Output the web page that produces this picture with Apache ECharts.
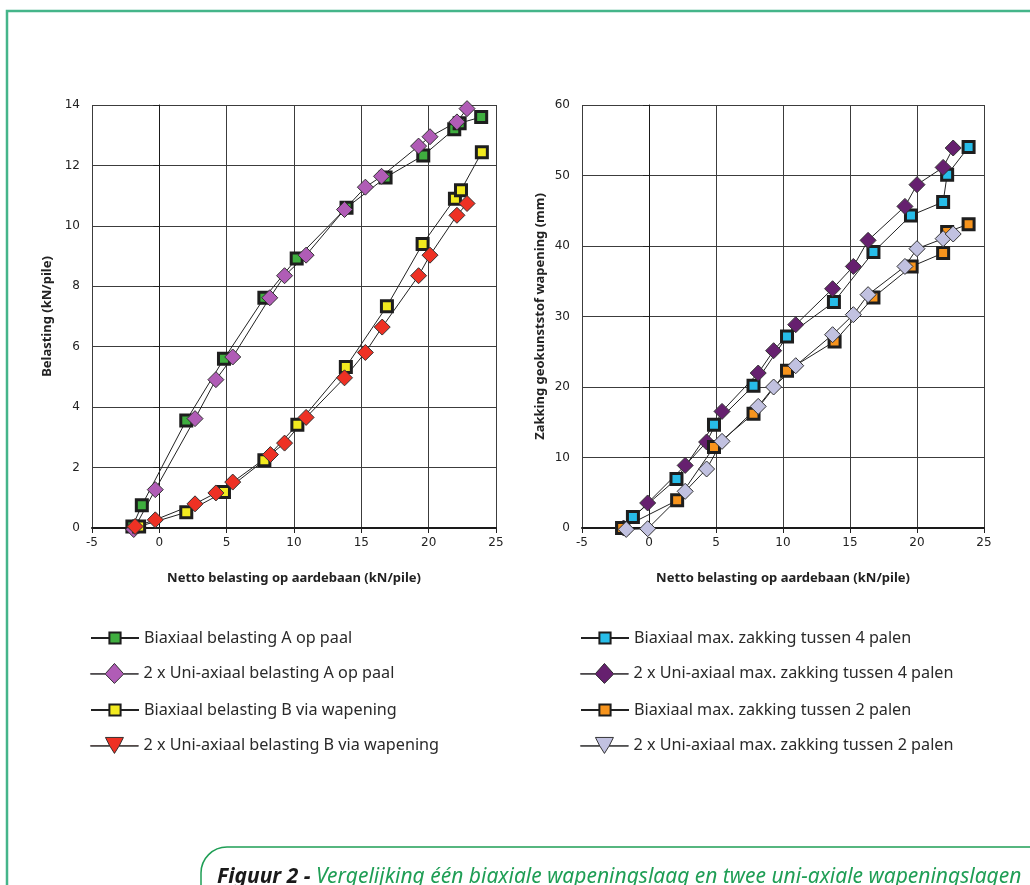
<!DOCTYPE html>
<html>
<head>
<meta charset="utf-8">
<script src="https://cdn.jsdelivr.net/npm/echarts@6/dist/echarts.min.js"></script>
<style>
html,body{margin:0;padding:0;background:#fff;}
#chart{width:1030px;height:885px;}
</style>
</head>
<body>
<div id="chart"></div>
<script>
// ---- Data ----
// Left chart: Belasting (kN/pile) vs Netto belasting op aardebaan (kN/pile)
const biaxA_x = [-2.0, -1.3, 2.0, 4.8, 7.8, 10.2, 13.9, 16.8, 19.6, 21.9, 22.3, 23.9];
const biaxA_y = [0.05, 0.75, 3.56, 5.6, 7.62, 8.92, 10.6, 11.6, 12.33, 13.2, 13.4, 13.6];
const uniA_x = [-1.9, -0.3, 2.65, 4.2, 5.45, 8.2, 9.3, 10.9, 13.75, 15.3, 16.5, 19.25, 20.1, 22.1, 22.85];
const uniA_y = [-0.05, 1.27, 3.62, 4.91, 5.66, 7.62, 8.35, 9.03, 10.54, 11.28, 11.64, 12.64, 12.95, 13.44, 13.88];
const biaxB_x = [-1.5, 2.0, 4.8, 7.8, 10.25, 13.85, 16.9, 19.55, 21.95, 22.4, 23.95];
const biaxB_y = [0.05, 0.52, 1.19, 2.24, 3.42, 5.33, 7.34, 9.4, 10.9, 11.18, 12.44];
const uniB_x = [-1.8, -0.3, 2.65, 4.2, 5.45, 8.25, 9.3, 10.9, 13.75, 15.3, 16.55, 19.25, 20.1, 22.1, 22.85];
const uniB_y = [0.05, 0.27, 0.8, 1.16, 1.52, 2.43, 2.81, 3.66, 4.97, 5.81, 6.65, 8.35, 9.03, 10.35, 10.74];

// Right chart: Zakking geokunststof wapening (mm)
const biax4_x = [-2.0, -1.2, 2.05, 4.85, 7.8, 10.3, 13.8, 16.75, 19.55, 21.95, 22.25, 23.85];
const biax4_y = [0, 1.56, 6.95, 14.65, 20.18, 27.18, 32.06, 39.15, 44.34, 46.24, 50.1, 54.04];
const uni4_x = [-1.9, -0.1, 2.7, 4.3, 5.45, 8.15, 9.3, 10.95, 13.7, 15.25, 16.35, 19.1, 20.0, 21.95, 22.7];
const uni4_y = [0, 3.55, 8.88, 12.2, 16.54, 21.98, 25.15, 28.84, 33.94, 37.1, 40.8, 45.62, 48.7, 51.15, 53.9];
const biax2_x = [-2.0, 2.1, 4.85, 7.8, 10.3, 13.85, 16.75, 19.6, 21.95, 22.25, 23.85];
const biax2_y = [0, 3.92, 11.49, 16.21, 22.31, 26.47, 32.71, 37.1, 39.0, 41.98, 43.1];
const uni2_x = [-1.7, -0.1, 2.7, 4.3, 5.45, 8.15, 9.3, 10.95, 13.7, 15.25, 16.35, 19.1, 20.0, 21.95, 22.7];
const uni2_y = [-0.2, -0.1, 5.2, 8.37, 12.29, 17.25, 20.0, 23.02, 27.42, 30.26, 33.1, 37.1, 39.62, 41.04, 41.7];

// Axis ticks
const xTicks = {min: -5, max: 25, interval: 5};
const yLeftTicks = {min: 0, max: 14, interval: 2};
const yRightTicks = {min: 0, max: 60, interval: 10};

// Names
const seriesNames = [
  'Biaxiaal belasting A op paal',
  '2 x Uni-axiaal belasting A op paal',
  'Biaxiaal belasting B via wapening',
  '2 x Uni-axiaal belasting B via wapening',
  'Biaxiaal max. zakking tussen 4 palen',
  '2 x Uni-axiaal max. zakking tussen 4 palen',
  'Biaxiaal max. zakking tussen 2 palen',
  '2 x Uni-axiaal max. zakking tussen 2 palen'
];
const xAxisName = 'Netto belasting op aardebaan (kN/pile)';
const yLeftName = 'Belasting (kN/pile)';
const yRightName = 'Zakking geokunststof wapening (mm)';
const captionBold = 'Figuur 2 - ';
const captionText = 'Vergelijking één biaxiale wapeningslaag en twee uni-axiale wapeningslagen';

// ---- Build ----
function pairs(xs, ys){ return xs.map((x,i)=>[x, ys[i]]); }

const FONT = 'Noto Sans';
const LINE = {color:'#222', width:1};
const COLORS = ['#3fae3f', '#b05cb6', '#f2ea1f', '#ee3124', '#27bde9', '#66206f', '#f7941d', '#c1c1e0'];

function sq(i, xs, ys, idx){
  return {name:seriesNames[i], type:'line', xAxisIndex:idx, yAxisIndex:idx, data:pairs(xs,ys),
    symbol:'rect', symbolSize:11, clip:false,
    lineStyle:LINE,
    itemStyle:{color:COLORS[i], borderColor:'#1e1e1e', borderWidth:3},
    emphasis:{disabled:true}, animation:false};
}
function dia(i, xs, ys, idx){
  return {name:seriesNames[i], type:'line', xAxisIndex:idx, yAxisIndex:idx, data:pairs(xs,ys),
    symbol:'diamond', symbolSize:16, clip:false,
    lineStyle:LINE,
    itemStyle:{color:COLORS[i], borderColor:'#333', borderWidth:1},
    emphasis:{disabled:true}, animation:false};
}

function xAxisCfg(gi){
  return {type:'value', gridIndex:gi, min:xTicks.min, max:xTicks.max, interval:xTicks.interval,
    name:xAxisName, nameLocation:'middle', nameGap:44,
    nameTextStyle:{fontFamily:FONT, fontWeight:'bold', fontSize:13, color:'#222'},
    axisLine:{show:true, onZero:false, lineStyle:{color:'#1a1a1a', width:2}},
    axisTick:{show:true, length:5, lineStyle:{color:'#222'}},
    axisLabel:{fontFamily:'DejaVu Sans', fontSize:12, color:'#222', margin:9},
    splitLine:{show:true, lineStyle:{color:'#3c3c3c', width:1}}};
}
function yAxisCfg(gi, t, name, gap){
  return {type:'value', gridIndex:gi, min:t.min, max:t.max, interval:t.interval,
    name:name, nameLocation:'middle', nameGap:gap, nameRotate:90,
    nameTextStyle:{fontFamily:FONT, fontWeight:'bold', fontSize:13, color:'#222'},
    axisLine:{show:true, lineStyle:{color:'#1a1a1a', width:1}},
    axisTick:{show:true, length:6, lineStyle:{color:'#222'}},
    axisLabel:{fontFamily:'DejaVu Sans', fontSize:12, color:'#222', margin:12},
    splitLine:{show:true, lineStyle:{color:'#3c3c3c', width:1}}};
}

// Legend icons: a thin line with the marker (box 48 wide)
const diaPath = 'path://M0,10.35 L14.8,10.35 L24,0 L33.2,10.35 L48,10.35 L48,10.65 L33.2,10.65 L24,20 L14.8,10.65 L0,10.65 Z';
const triPath = 'path://M0,8.35 L19.2,8.35 L15,0 L33,0 L28.8,8.35 L48,8.35 L48,8.65 L28.6,8.65 L24,16 L19.4,8.65 L0,8.65 Z';

const rowCenters = [637, 673, 709, 745];
const legendFont = {fontFamily:FONT, fontSize:16.2, color:'#2a2a2a'};
function legendItem(i, left, row, kind){
  let h = 14, item = {name:seriesNames[i]};
  if (kind === 'dia') { h = 20; item = {name:seriesNames[i], icon:diaPath, itemStyle:{color:COLORS[i], borderColor:'#222', borderWidth:0.9}}; }
  if (kind === 'tri') { h = 16; item = {name:seriesNames[i], icon:triPath, itemStyle:{color:COLORS[i], borderColor:'#222', borderWidth:0.9}}; }
  return {left:left, top:rowCenters[row] - h/2 - 5, orient:'vertical', itemWidth:48, itemHeight:h,
    textStyle:legendFont, selectedMode:false, data:[item]};
}

const option = {
  backgroundColor:'#fff',
  animation:false,
  grid:[
    {left:92, top:105, width:404, height:423, containLabel:false},
    {left:582, top:105, width:402, height:423, containLabel:false}
  ],
  xAxis:[xAxisCfg(0), xAxisCfg(1)],
  yAxis:[yAxisCfg(0, yLeftTicks, yLeftName, 38), yAxisCfg(1, yRightTicks, yRightName, 35)],
  legend:[
    legendItem(0, 85, 0, 'sq'),
    legendItem(1, 85, 1, 'dia'),
    legendItem(2, 85, 2, 'sq'),
    legendItem(3, 85, 3, 'tri'),
    legendItem(4, 575, 0, 'sq'),
    legendItem(5, 575, 1, 'dia'),
    legendItem(6, 575, 2, 'sq'),
    legendItem(7, 575, 3, 'tri')
  ],
  series:[
    sq(0, biaxA_x, biaxA_y, 0),
    dia(1, uniA_x, uniA_y, 0),
    sq(2, biaxB_x, biaxB_y, 0),
    dia(3, uniB_x, uniB_y, 0),
    sq(4, biax4_x, biax4_y, 1),
    dia(5, uni4_x, uni4_y, 1),
    sq(6, biax2_x, biax2_y, 1),
    dia(7, uni2_x, uni2_y, 1)
  ],
  graphic:[
    {type:'rect', silent:true, z:-1, shape:{x:7, y:11, width:1200, height:1000},
      style:{fill:'none', stroke:'#45b58a', lineWidth:2.5}},
    {type:'rect', silent:true, shape:{x:201, y:847, width:1000, height:200, r:[26,0,0,0]},
      style:{fill:'none', stroke:'#1f9e55', lineWidth:1.5}},
    {type:'text', silent:true, left:217, top:867,
      style:{text:'{b|'+captionBold+'}{g|'+captionText+'}',
        rich:{
          b:{fontFamily:FONT, fontStyle:'italic', fontWeight:'bold', fontSize:21, fill:'#1a1a1a'},
          g:{fontFamily:FONT, fontStyle:'italic', fontSize:21, fill:'#1f9e55'}
        }}}
  ]
};

const chart = echarts.init(document.getElementById('chart'), null, {renderer:'canvas'});
chart.setOption(option);
</script>
</body>
</html>
